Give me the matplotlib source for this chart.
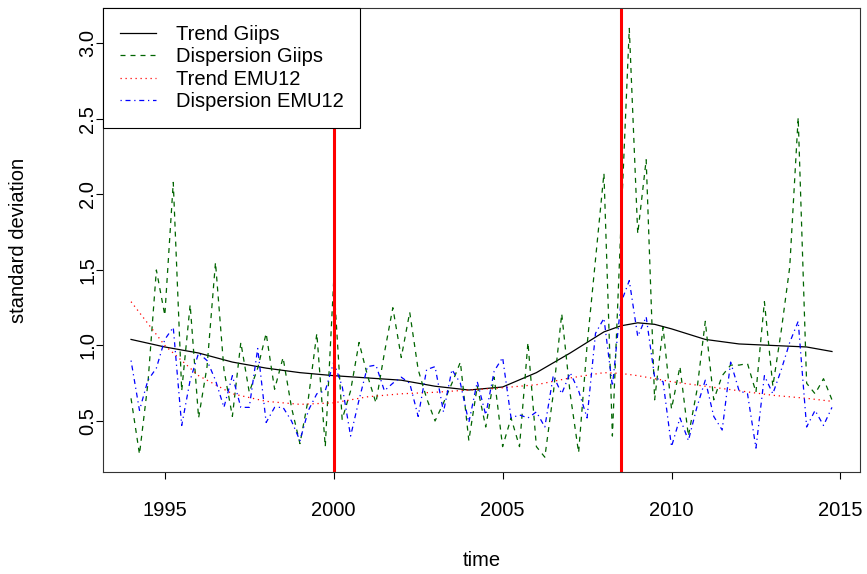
import numpy as np
import matplotlib
matplotlib.use('Agg')
import matplotlib.pyplot as plt

plt.rcParams['font.family'] = ['Liberation Sans', 'DejaVu Sans']

# quarterly observations 1994Q1 .. 2014Q4
start_year = 1994
n_quarters = 84

disp_giips = [0.65, 0.28, 0.75, 1.50, 1.20, 2.08, 0.70, 1.27, 0.52, 0.86,
              1.55, 0.84, 0.53, 1.02, 0.69, 0.85, 1.08, 0.71, 0.92, 0.59,
              0.35, 0.65, 1.08, 0.33, 1.43, 0.51, 0.70, 1.02, 0.80, 0.62,
              0.95, 1.25, 0.92, 1.22, 0.84, 0.65, 0.50, 0.62, 0.75, 0.89,
              0.37, 0.73, 0.46, 0.79, 0.33, 0.52, 0.33, 1.02, 0.33, 0.26,
              0.68, 1.21, 0.68, 0.29, 1.00, 1.57, 2.14, 0.40, 1.78, 3.10,
              1.74, 2.23, 0.64, 1.12, 0.58, 0.86, 0.40, 0.70, 1.16, 0.64,
              0.80, 0.87, 0.87, 0.88, 0.69, 1.29, 0.73, 1.10, 1.52, 2.51,
              0.75, 0.68, 0.78, 0.64]

disp_emu12 = [0.90, 0.57, 0.77, 0.85, 1.04, 1.12, 0.47, 0.77, 0.95, 0.90,
              0.77, 0.59, 0.80, 0.59, 0.59, 0.98, 0.49, 0.59, 0.59, 0.50,
              0.37, 0.57, 0.68, 0.70, 0.89, 0.73, 0.40, 0.64, 0.86, 0.87,
              0.70, 0.75, 0.79, 0.75, 0.53, 0.84, 0.86, 0.56, 0.84, 0.75,
              0.49, 0.76, 0.54, 0.83, 0.92, 0.52, 0.54, 0.52, 0.56, 0.46,
              0.80, 0.68, 0.82, 0.70, 0.52, 1.08, 1.18, 0.73, 1.28, 1.43,
              1.06, 1.19, 0.79, 0.76, 0.33, 0.52, 0.37, 0.59, 0.77, 0.53,
              0.44, 0.89, 0.70, 0.68, 0.32, 0.80, 0.68, 0.84, 1.02, 1.16,
              0.46, 0.57, 0.47, 0.59]

trend_years = [1994, 1995, 1996, 1997, 1998, 1999, 2000, 2001, 2002, 2003,
               2004, 2005, 2006, 2007, 2008, 2008.5, 2009, 2009.5, 2010,
               2011, 2012, 2013, 2014, 2014.75]
trend_giips = [1.04, 0.99, 0.95, 0.89, 0.85, 0.82, 0.80, 0.785, 0.77, 0.73,
               0.705, 0.725, 0.82, 0.95, 1.09, 1.13, 1.15, 1.14, 1.11,
               1.04, 1.01, 1.00, 0.99, 0.96]
trend_emu12 = [1.29, 1.00, 0.80, 0.68, 0.63, 0.61, 0.62, 0.66, 0.68, 0.69,
               0.705, 0.72, 0.74, 0.785, 0.82, 0.815, 0.80, 0.78, 0.76,
               0.73, 0.70, 0.67, 0.65, 0.63]

break_years = [2000, 2008.5]

t = start_year + np.arange(n_quarters) / 4.0

fig = plt.figure(figsize=(8.67, 5.74), dpi=100)
ax = fig.add_axes([103/867, 1 - 472/574, 757/867, 464/574])

ax.plot(trend_years, trend_giips, color='black', lw=0.9, label='Trend Giips')
ax.plot(t, disp_giips, color='#006400', lw=0.9, ls=(0, (4, 4)), label='Dispersion Giips')
ax.plot(trend_years, trend_emu12, color='red', lw=0.9, ls=(0, (1, 3)), label='Trend EMU12')
ax.plot(t, disp_emu12, color='blue', lw=0.9, ls=(0, (1, 3, 4, 3)), label='Dispersion EMU12')
for b in break_years:
    ax.axvline(b, color='red', lw=2.2)

# R style 4% padding on x
span = t[-1] - t[0]
ax.set_xlim(t[0] - 0.04 * span, t[-1] + 0.04 * span)
ax.set_ylim(0.162, 3.235)
ax.set_xticks([1995, 2000, 2005, 2010, 2015])
ax.set_yticks([0.5, 1.0, 1.5, 2.0, 2.5, 3.0])
ax.set_yticklabels(['0.5', '1.0', '1.5', '2.0', '2.5', '3.0'], rotation=90, va='center')
ax.tick_params(direction='out', length=5, width=0.8, labelsize=14.5)
ax.tick_params(axis='x', pad=16)
ax.tick_params(axis='y', pad=-1)
for s in ax.spines.values():
    s.set_linewidth(0.8)
    s.set_color('#333333')

ax.set_xlabel('time', fontsize=14.5, labelpad=22)
ax.set_ylabel('standard deviation', fontsize=14.5, labelpad=36)

leg = ax.legend(loc='upper left', borderaxespad=0, fancybox=False, fontsize=14.5,
                handlelength=1.8, handletextpad=0.95, labelspacing=0.16,
                borderpad=0.85, framealpha=1)
leg.get_frame().set_edgecolor('black')
leg.get_frame().set_linewidth(0.8)

fig.savefig('out.png', dpi=100)
